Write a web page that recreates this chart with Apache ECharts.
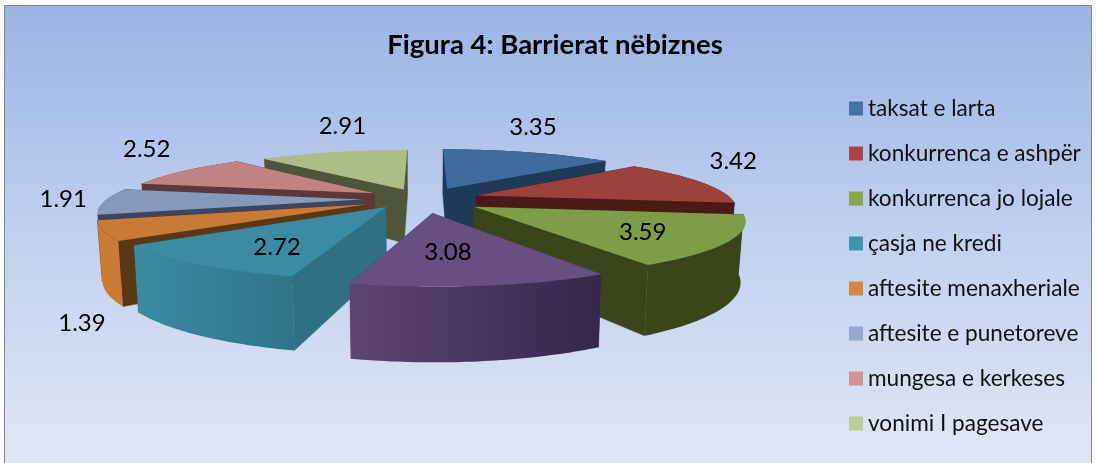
<!DOCTYPE html>
<html><head><meta charset="utf-8">
<style>html,body{margin:0;padding:0;background:#fff}#c{width:1096px;height:463px}</style>
<script src="https://cdn.jsdelivr.net/npm/echarts@6/dist/echarts.min.js"></script>
</head><body><div id="c"></div>
<script>
// ---- data
var categories = ['taksat e larta','konkurrenca e ashpër','konkurrenca jo lojale','','çasja ne kredi','aftesite menaxheriale','aftesite e punetoreve','mungesa e kerkeses','vonimi I pagesave'];
var values = [3.35,3.42,3.59,3.08,2.72,1.39,1.91,2.52,2.91];
var legendNames = ['taksat e larta','konkurrenca e ashpër','konkurrenca jo lojale','çasja ne kredi','aftesite menaxheriale','aftesite e punetoreve','mungesa e kerkeses','vonimi I pagesave'];
var titleText = 'Figura 4: Barrierat nëbiznes';
// ---- style
var legendColors = ['#4572a7','#aa4643','#89a54e','#71588f','#3d96ae','#db843d','#93a9cf','#d19392','#b9cd96'];
var topColors    = ['#3f6c9e','#9d413e','#7f9c47','#66507f','#3b8ba2','#c97a35','#8599bb','#c08382','#adbd88'];
var wallColors   = ['#1f3a57','#4a1a18','#3a4519','#4d3a63','#2f7082','#5b3815','#3c4660','#5c3838','#4e553a'];
var arcLeft      = ['#1f3a57','#4a1a18','#3a4519','#5c4672','#3a8ca3','#cc7b32','#3c4660','#5c3838','#a9bb85'];
var arcRight     = ['#1f3a57','#4a1a18','#3a4519','#34274a','#2f7587','#c97a35','#3c4660','#5c3838','#a9bb85'];
var paintOrder   = [1,4,7,9,8,6,5,3,2];           // z per slice (back to front)
var labelNudge   = [[8,-25],[33,-21],[-83,-8],[-31,-31],[80,-19],[-21,93],[-41,-2],[-33,-22],[12,-25]];
var sliceShift   = [[3,0],[0,0],[3,1],[3,2],[-1,-2],[0,0],[0,0],[3,0],[3,1]];
// ---- projection
var cx=421, cy=199, A=255, B=51.6, P=0.212, H=56, EXPL=0.23, Q=0.015;
var total = values.reduce(function(a,b){return a+b;},0);
function project(u,v,down){
  var s=1/(1-P*v), x=cx+A*u*s, y=cy+B*v*s;
  if(down){ x=cx+(x-cx)*(1-Q); y+=H*s; }
  return [x,y];
}
function sliceRender(idx){
  return function(params,api){
    var val=api.value(0), before=values.slice(0,idx).reduce(function(a,b){return a+b;},0);
    var a0=before/total*2*Math.PI, a1=(before+val)/total*2*Math.PI, mid=(a0+a1)/2;
    var ox=EXPL*Math.sin(mid), oy=-EXPL*Math.cos(mid);
    var rim=[], n=Math.max(8,Math.round((a1-a0)*180/Math.PI));
    for(var i=0;i<=n;i++){var t=a0+(a1-a0)*i/n; rim.push([ox+Math.sin(t),oy-Math.cos(t)]);}
    var tip=[ox,oy], sh=sliceShift[idx];
    function P2(p,d){var q=project(p[0],p[1],d);return [q[0]+sh[0],q[1]+sh[1]];}
    function meanV(pts){return pts.reduce(function(s,p){return s+p[1];},0)/pts.length;}
    var faces=[];
    var first=rim[0], last=rim[n];
    [first,last].forEach(function(e){
      faces.push({v:(tip[1]+e[1])/2,pts:[P2(tip),P2(e),P2(e,1),P2(tip,1)],fill:wallColors[idx]});
    });
    var arcPts=rim.map(function(p){return P2(p);}).concat(rim.slice().reverse().map(function(p){return P2(p,1);}));
    faces.push({v:meanV(rim),pts:arcPts,fill:new echarts.graphic.LinearGradient(0,0,1,0,[{offset:0,color:arcLeft[idx]},{offset:1,color:arcRight[idx]}])});
    faces.sort(function(a,b){return a.v-b.v;});
    var children=faces.map(function(f){
      return {type:'polygon',shape:{points:f.pts},style:{fill:f.fill,stroke:f.fill.colorStops?null:f.fill,lineWidth:0.5}};
    });
    var topPts=[P2(tip)].concat(rim.map(function(p){return P2(p);}));
    children.push({type:'polygon',shape:{points:topPts},style:{fill:topColors[idx]}});
    var lb=project(ox+Math.sin(mid),oy-Math.cos(mid));
    children.push({type:'text',z2:50,style:{text:val.toFixed(2),x:lb[0]+labelNudge[idx][0],y:lb[1]+labelNudge[idx][1],
      align:'center',verticalAlign:'middle',fontFamily:'Lato',fontSize:24,fill:'#000'}});
    return {type:'group',children:children};
  };
}
var series=values.map(function(v,i){
  return {type:'custom',name:categories[i]||'_',coordinateSystem:'none',z:2+paintOrder[i],
    itemStyle:{color:legendColors[i]},data:[{value:[v]}],renderItem:sliceRender(i),silent:true,animation:false};
});
var chart=echarts.init(document.getElementById('c'),null,{renderer:'canvas'});
chart.setOption({
  animation:false,
  title:{text:titleText,left:550,top:26,textAlign:'center',textStyle:{fontFamily:'Lato',fontWeight:'bold',fontSize:27.5,color:'#000'}},
  legend:{data:legendNames,orient:'vertical',left:844,top:92,icon:'rect',itemWidth:14,itemHeight:14,itemGap:22,itemTextGap:5,
    textStyle:{fontFamily:'Lato',fontSize:22.6,color:'#111'},selectedMode:false},
  graphic:[{type:'rect',z:-1,silent:true,shape:{x:4.5,y:5.5,width:1087,height:470},
    style:{fill:new echarts.graphic.LinearGradient(0,0,0,1,[{offset:0,color:'#9ab4e3'},{offset:0.5,color:'#c2d1ee'},{offset:1,color:'#e2e8f5'}]),stroke:'#868686',lineWidth:1}}],
  series:series
});
</script></body></html>
